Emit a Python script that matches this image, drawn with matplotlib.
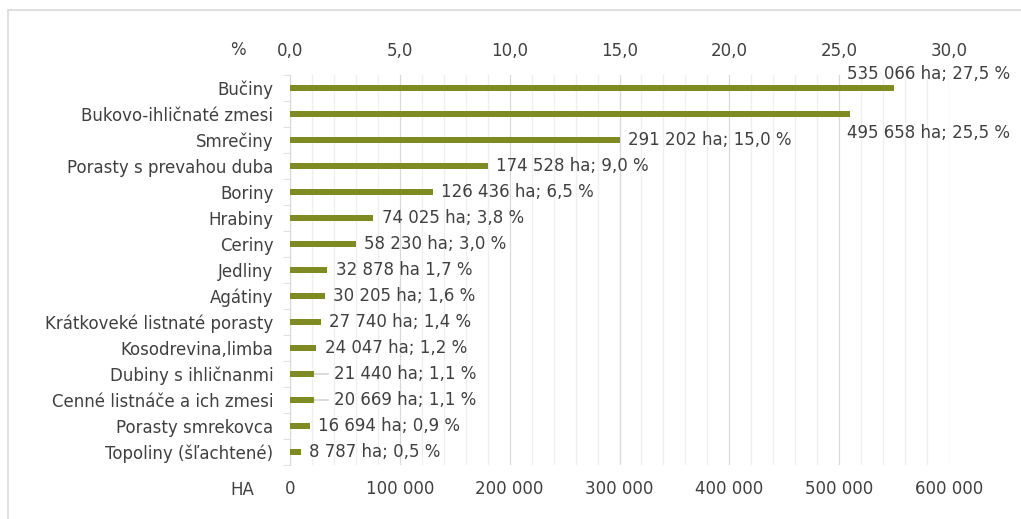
import matplotlib.pyplot as plt
from matplotlib.patches import Rectangle
from matplotlib.ticker import MultipleLocator, FuncFormatter

plt.rcParams['font.family'] = ['DejaVu Sans']

druhy = ['Bučiny', 'Bukovo-ihličnaté zmesi', 'Smrečiny', 'Porasty s prevahou duba',
         'Boriny', 'Hrabiny', 'Ceriny', 'Jedliny', 'Agátiny', 'Krátkoveké listnaté porasty',
         'Kosodrevina,limba', 'Dubiny s ihličnanmi', 'Cenné listnáče a ich zmesi',
         'Porasty smrekovca', 'Topoliny (šľachtené)']
plocha_ha = [535066, 495658, 291202, 174528, 126436, 74025, 58230, 32878, 30205,
             27740, 24047, 21440, 20669, 16694, 8787]
podiel = [27.5, 25.5, 15.0, 9.0, 6.5, 3.8, 3.0, 1.7, 1.6, 1.4, 1.2, 1.1, 1.1, 0.9, 0.5]
popisky = ['535 066 ha; 27,5 %', '495 658 ha; 25,5 %', '291 202 ha; 15,0 %',
           '174 528 ha; 9,0 %', '126 436 ha; 6,5 %', '74 025 ha; 3,8 %', '58 230 ha; 3,0 %',
           '32 878 ha 1,7 %', '30 205 ha; 1,6 %', '27 740 ha; 1,4 %', '24 047 ha; 1,2 %',
           '21 440 ha; 1,1 %', '20 669 ha; 1,1 %', '16 694 ha; 0,9 %', '8 787 ha; 0,5 %']

farba = '#7f8a22'
text_c = '#404040'
fs = 12

fig = plt.figure(figsize=(10.21, 5.19), dpi=100)
fig.patches.append(Rectangle((8 / 1021, -0.1), 1.2, 1 - 10 / 519 + 0.1, transform=fig.transFigure,
                             fill=False, edgecolor='#d9d9d9', linewidth=1.2))
ax = fig.add_axes([290 / 1021, 1 - 465 / 519, 659 / 1021, 390 / 519])

y = list(range(len(druhy)))
ax.barh(y, podiel, height=0.24, color=farba, zorder=3)
ax.set_xlim(0, 30)
ax.set_ylim(len(druhy) - 0.5, -0.5)

# grid
ax.xaxis.set_major_locator(MultipleLocator(5))
ax.xaxis.set_minor_locator(MultipleLocator(1))
ax.grid(axis='x', which='major', color='#d9d9d9', linewidth=0.9, zorder=0)
ax.grid(axis='x', which='minor', color='#efefef', linewidth=0.9, zorder=0)
for s in ['top', 'right', 'bottom']:
    ax.spines[s].set_visible(False)
ax.spines['left'].set_color('#d9d9d9')

# top axis in %
ax.xaxis.tick_top()
ax.tick_params(axis='x', which='both', length=0, pad=11, labelsize=fs, labelcolor=text_c)
ax.xaxis.set_major_formatter(FuncFormatter(lambda v, p: f'{v:.1f}'.replace('.', ',')))

# bottom axis in ha
sec = ax.secondary_xaxis('bottom', functions=(lambda v: v * 20000, lambda v: v / 20000))
sec.set_xticks([0, 100000, 200000, 300000, 400000, 500000, 600000])
sec.xaxis.set_major_formatter(FuncFormatter(lambda v, p: f'{int(v):,}'.replace(',', ' ')))
sec.tick_params(axis='x', length=0, pad=11, labelsize=fs, labelcolor=text_c)
sec.spines['bottom'].set_visible(False)

# y axis
ax.set_yticks(y)
ax.set_yticklabels(druhy)
ax.set_yticks([i + 0.5 for i in range(-1, len(druhy))], minor=True)
ax.tick_params(axis='y', which='major', length=0, pad=12, labelsize=fs, labelcolor=text_c)
ax.tick_params(axis='y', which='minor', length=5, color='#d9d9d9')

# data labels
for i, (v, t) in enumerate(zip(podiel, popisky)):
    if i == 0:
        ax.text(25.35, i - 0.55, t, va='center', ha='left', fontsize=fs, color=text_c)
    elif i == 1:
        ax.text(25.35, i + 0.72, t, va='center', ha='left', fontsize=fs, color=text_c)
    elif i in (11, 12):
        ax.annotate(t, xy=(v, i), xytext=(v + 0.9, i), va='center', ha='left', fontsize=fs,
                    color=text_c, arrowprops=dict(arrowstyle='-', color='#bfbfbf', lw=0.8,
                                                  shrinkA=2, shrinkB=0))
    else:
        ax.annotate(t, xy=(v, i), xytext=(6, 0), textcoords='offset points',
                    va='center', ha='left', fontsize=fs, color=text_c)

fig.text(238 / 1021, 1 - 50 / 519, '%', ha='center', va='center', fontsize=fs, color=text_c)
fig.text(242 / 1021, 1 - 490 / 519, 'HA', ha='center', va='center', fontsize=fs, color=text_c)

fig.savefig('out.png', dpi=100)
